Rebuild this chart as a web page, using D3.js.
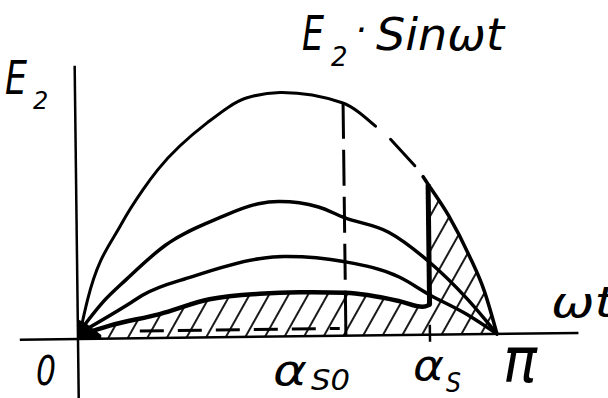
<!DOCTYPE html>
<html>
<head>
<meta charset="utf-8">
<script src="https://cdn.jsdelivr.net/npm/d3@7"></script>
<style>
html, body { margin: 0; padding: 0; background: #fff; }
svg { display: block; }
text { font-family: "DejaVu Sans", sans-serif; font-style: italic; fill: #000; }
</style>
</head>
<body>
<svg id="svg"></svg>
<script>
// x in degrees of wt (0..180 = 0..pi), y as fraction of E2
const topX = [1, 4.3, 19.3, 28.8, 35.2, 56.7, 73.9, 88.1, 114.7, 128.9, 135.3, 145.6, 149.1, 151.2, 159.8, 168.4, 174.8, 180];
const topY = [0.03, 0.16, 0.47, 0.61, 0.69, 0.88, 0.98, 1.0, 0.955, 0.857, 0.803, 0.693, 0.648, 0.617, 0.488, 0.324, 0.176, 0];

const c2X = [0.9, 10.7, 21.1, 38.2, 61.0, 78.2, 86.8, 104.0, 115.1, 134.0, 151.2, 167.1, 180];
const c2Y = [0.033, 0.148, 0.242, 0.381, 0.488, 0.545, 0.553, 0.529, 0.484, 0.422, 0.299, 0.148, 0];

const c3X = [0.9, 23.2, 27.9, 49.4, 78.2, 88.9, 115.1, 138.3, 151.2, 167.1, 180];
const c3Y = [0.025, 0.148, 0.176, 0.25, 0.32, 0.328, 0.303, 0.238, 0.164, 0.082, 0];

const c4X = [0.9, 13.7, 35.2, 56.7, 78.2, 95.4, 115.1, 138.3, 148.2, 151.2];
const c4Y = [0.016, 0.053, 0.098, 0.156, 0.176, 0.18, 0.176, 0.139, 0.115, 0.123];

const alphaS0 = 115.1;
const alphaS = 151.2;
const topAtS0 = 0.955;
const topAtS = 0.617;

const svgWidth = 608;
const svgHeight = 398;

const svg = d3.select("#svg")
    .attr("width", svgWidth)
    .attr("height", svgHeight);

const x = d3.scaleLinear().domain([0, 180]).range([78, 497]);
const y = d3.scaleLinear().domain([0, 1]).range([339, 95]);

function pts(xs, ys) {
    return xs.map((d, i) => [d, ys[i]]);
}

const line = d3.line()
    .x(d => x(d[0]))
    .y(d => y(d[1]))
    .curve(d3.curveMonotoneX);

const topPts = pts(topX, topY);
const c4 = pts(c4X, c4Y);

// hatch pattern
const defs = svg.append("defs");
defs.append("pattern")
    .attr("id", "hatch")
    .attr("patternUnits", "userSpaceOnUse")
    .attr("width", 17)
    .attr("height", 17)
    .attr("patternTransform", "rotate(30)")
    .append("line")
    .attr("x1", 8).attr("y1", 0)
    .attr("x2", 8).attr("y2", 17)
    .attr("stroke", "#000")
    .attr("stroke-width", 1.8);

// scan is slightly tilted
const g = svg.append("g").attr("transform", "rotate(-0.7, 78, 339)");

// hatched area
const rightPart = topPts.filter(d => d[0] >= alphaS);
const areaD = "M" + x(0) + "," + y(0)
    + line(c4).replace("M", "L")
    + line(rightPart).replace("M", "L")
    + "L" + x(0) + "," + y(0) + "Z";
g.append("path")
    .attr("d", areaD)
    .attr("fill", "url(#hatch)");

// horizontal strokes near base
g.append("line")
    .attr("x1", x(26.6)).attr("x2", x(112.5))
    .attr("y1", y(0.03)).attr("y2", y(0.03))
    .attr("stroke", "#000")
    .attr("stroke-width", 3)
    .attr("stroke-dasharray", "24,14");

// axes
g.append("line")
    .attr("x1", x(-25)).attr("x2", x(215))
    .attr("y1", y(0)).attr("y2", y(0))
    .attr("stroke", "#000").attr("stroke-width", 2.5);
g.append("line")
    .attr("x1", x(0)).attr("x2", x(0))
    .attr("y1", y(1.12)).attr("y2", y(-0.26))
    .attr("stroke", "#000").attr("stroke-width", 2.5);

// origin blob
g.append("path")
    .attr("d", d3.line().x(d => x(d[0])).y(d => y(d[1]))([[0, 0], [0.3, 0.08], [4, 0.06], [10, 0.015], [10, 0]]))
    .attr("fill", "#000");

// alpha_s0 dashed vertical
g.append("line")
    .attr("x1", x(alphaS0)).attr("x2", x(alphaS0))
    .attr("y1", y(topAtS0)).attr("y2", y(0.18))
    .attr("stroke", "#000").attr("stroke-width", 3)
    .attr("stroke-dasharray", "36,11");
g.append("line")
    .attr("x1", x(alphaS0)).attr("x2", x(alphaS0))
    .attr("y1", y(0.18)).attr("y2", y(0))
    .attr("stroke", "#000").attr("stroke-width", 3);

// alpha_s thick vertical and tick
g.append("line")
    .attr("x1", x(alphaS)).attr("x2", x(alphaS))
    .attr("y1", y(topAtS)).attr("y2", y(c4Y[c4Y.length - 1]))
    .attr("stroke", "#000").attr("stroke-width", 5);
g.append("line")
    .attr("x1", x(alphaS)).attr("x2", x(alphaS))
    .attr("y1", y(0) - 10).attr("y2", y(0) + 7)
    .attr("stroke", "#000").attr("stroke-width", 2.5);

// curves
function curve(data, w) {
    g.append("path")
        .attr("d", line(data))
        .attr("fill", "none")
        .attr("stroke", "#000")
        .attr("stroke-width", w)
        .attr("stroke-linecap", "round");
}
curve(topPts.filter(d => d[0] <= 128.9), 3);
curve(topPts.filter(d => d[0] >= 135.3 && d[0] <= 145.6), 3);
curve(topPts.filter(d => d[0] >= 149.1), 3.5);
curve(pts(c2X, c2Y), 3.5);
curve(pts(c3X, c3Y), 3.5);
curve(c4, 4.5);

// labels
svg.append("text").attr("x", 302).attr("y", 50).attr("font-size", 48).attr("textLength", 22).attr("lengthAdjust", "spacingAndGlyphs").text("E");
svg.append("text").attr("x", 331).attr("y", 66).attr("font-size", 26).text("2");
svg.append("text").attr("x", 355).attr("y", 42).attr("font-size", 36).text("·");
svg.append("text").attr("x", 376).attr("y", 50).attr("font-size", 44).attr("textLength", 128).attr("lengthAdjust", "spacingAndGlyphs").text("Sinωt");

svg.append("text").attr("x", 5).attr("y", 94).attr("font-size", 46).attr("textLength", 22).attr("lengthAdjust", "spacingAndGlyphs").text("E");
svg.append("text").attr("x", 33).attr("y", 109).attr("font-size", 24).text("2");

svg.append("text").attr("x", 551).attr("y", 317).attr("font-size", 42).attr("textLength", 64).attr("lengthAdjust", "spacingAndGlyphs").text("ωt");

svg.append("text").attr("x", 36).attr("y", 385).attr("font-size", 40).attr("textLength", 20).attr("lengthAdjust", "spacingAndGlyphs").text("0");

svg.append("text").attr("x", 273).attr("y", 385).attr("font-size", 42).attr("textLength", 34).attr("lengthAdjust", "spacingAndGlyphs").text("α");
svg.append("text").attr("x", 311).attr("y", 390).attr("font-size", 28).attr("textLength", 39).attr("lengthAdjust", "spacingAndGlyphs").text("S0");

svg.append("text").attr("x", 413).attr("y", 380).attr("font-size", 42).attr("textLength", 31).attr("lengthAdjust", "spacingAndGlyphs").text("α");
svg.append("text").attr("x", 446).attr("y", 392).attr("font-size", 26).attr("textLength", 15).attr("lengthAdjust", "spacingAndGlyphs").text("S");

svg.append("text").attr("x", 503).attr("y", 382).attr("font-size", 62).attr("textLength", 34).attr("lengthAdjust", "spacingAndGlyphs").text("π");
</script>
</body>
</html>
